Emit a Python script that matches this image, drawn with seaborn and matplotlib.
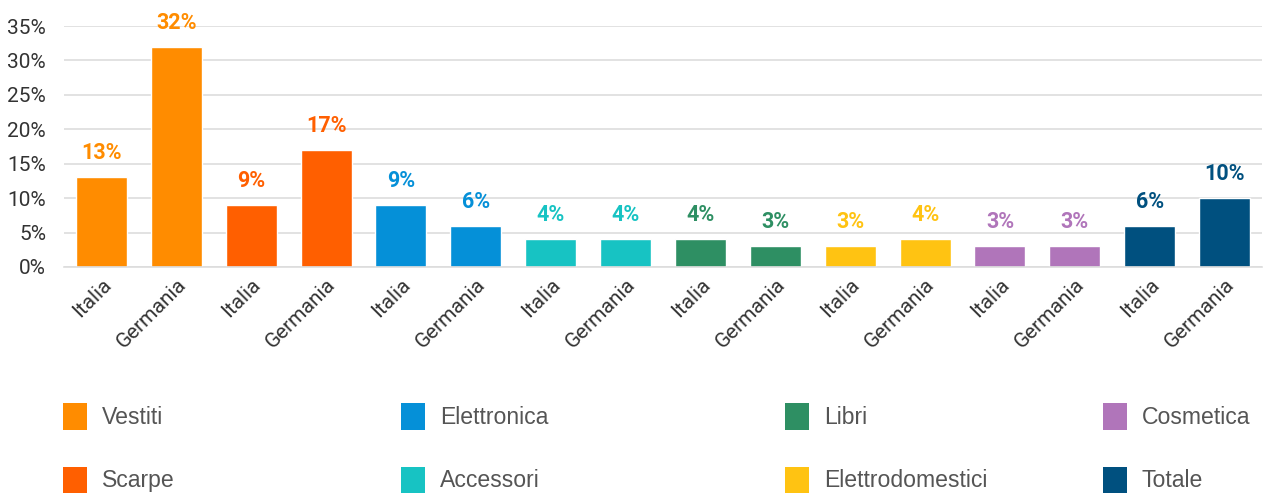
import numpy as np
import pandas as pd
import matplotlib
matplotlib.use('Agg')
import matplotlib.pyplot as plt
import seaborn as sns
from matplotlib.patches import Patch

# dati
categorie = ['Vestiti', 'Vestiti', 'Scarpe', 'Scarpe', 'Elettronica', 'Elettronica',
             'Accessori', 'Accessori', 'Libri', 'Libri', 'Elettrodomestici', 'Elettrodomestici',
             'Cosmetica', 'Cosmetica', 'Totale', 'Totale']
paesi = ['Italia', 'Germania'] * 8
valori = [13, 32, 9, 17, 9, 6, 4, 4, 4, 3, 3, 4, 3, 3, 6, 10]
ordine_legenda = ['Vestiti', 'Scarpe', 'Elettronica', 'Accessori',
                  'Libri', 'Elettrodomestici', 'Cosmetica', 'Totale']
colori = {'Vestiti': '#FF8C00', 'Scarpe': '#FF5F00', 'Elettronica': '#0590D8',
          'Accessori': '#17C3C3', 'Libri': '#2E8F63', 'Elettrodomestici': '#FFC312',
          'Cosmetica': '#B075BA', 'Totale': '#00507F'}
y_ticks = [0, 5, 10, 15, 20, 25, 30, 35]

df = pd.DataFrame({'pos': range(len(valori)), 'cat': categorie,
                   'paese': paesi, 'valore': valori})

sns.set_style('white')
plt.rcParams['font.family'] = ['Roboto', 'DejaVu Sans']

fig = plt.figure(figsize=(12.64, 4.97), dpi=100)
ax = fig.add_axes([64 / 1264, 1 - 267 / 497, (1262 - 64) / 1264, (267 - 26) / 497])

sns.barplot(data=df, x='pos', y='valore', hue='cat', palette=colori, dodge=False,
            width=0.68, legend=False, ax=ax, saturation=1)

# etichette valori
for i, (v, c) in enumerate(zip(valori, categorie)):
    ax.annotate(f'{v}%', (i, v), xytext=(0, 13), textcoords='offset points',
                ha='center', va='baseline', fontsize=15.5, fontweight='bold',
                color=colori[c])

ax.set_xlim(-0.5, len(valori) - 0.5)
ax.set_ylim(0, 35)
ax.set_yticks(y_ticks)
ax.set_yticklabels([f'{t}%' for t in y_ticks])
ax.set_xticks(range(len(valori)))
ax.set_xticklabels(paesi, rotation=45, ha='right', rotation_mode='anchor')
ax.tick_params(axis='y', length=0, pad=13, labelsize=15, labelcolor='#333333')
ax.tick_params(axis='x', length=0, pad=6, labelsize=15, labelcolor='#333333')
ax.set_xlabel('')
ax.set_ylabel('')
ax.grid(axis='y', color='#dddddd', linewidth=1.2)
ax.set_axisbelow(True)
for s in ['top', 'right', 'left']:
    ax.spines[s].set_visible(False)
ax.spines['bottom'].set_color('#dddddd')
ax.spines['bottom'].set_linewidth(1.2)

# legenda in 4 colonne
col_x = [63, 401, 785, 1103]
for k, x in enumerate(col_x):
    voci = ordine_legenda[2 * k:2 * k + 2]
    handles = [Patch(facecolor=colori[n], edgecolor='none', label=n) for n in voci]
    leg = fig.legend(handles=handles, loc='upper left',
                     bbox_to_anchor=(x / 1264, 1 - 403 / 497),
                     frameon=False, borderpad=0, borderaxespad=0,
                     handlelength=1.04, handleheight=1.4, handletextpad=0.65,
                     labelspacing=1.6,
                     prop={'family': 'Liberation Sans', 'size': 16.6})
    for t in leg.get_texts():
        t.set_color('#555555')

fig.savefig('out.png', dpi=100)
